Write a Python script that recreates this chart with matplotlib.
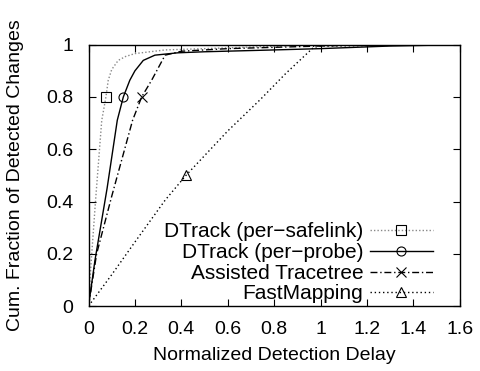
import matplotlib
matplotlib.use("Agg")
import matplotlib.pyplot as plt

plt.rcParams['font.family'] = ['Liberation Sans', 'DejaVu Sans']

safelink_x = [0, 0.01, 0.03, 0.057, 0.075, 0.085, 0.1, 0.128, 0.16, 0.2, 0.33, 0.5, 0.67, 1.0, 1.6]
safelink_y = [0, 0.15, 0.40, 0.71, 0.80, 0.864, 0.905, 0.94, 0.955, 0.966, 0.98, 0.985, 0.99, 1.0, 1.0]

probe_x = [0, 0.028, 0.08, 0.124, 0.15, 0.178, 0.2, 0.236, 0.286, 0.385, 0.5, 0.8, 1.0, 1.3, 1.6]
probe_y = [0, 0.176, 0.45, 0.711, 0.80, 0.864, 0.9, 0.94, 0.96, 0.969, 0.973, 0.98, 0.985, 0.995, 1.0]

tracetree_x = [0, 0.035, 0.1, 0.19, 0.229, 0.272, 0.33, 0.4, 0.6, 1.0, 1.2, 1.6]
tracetree_y = [0, 0.2, 0.42, 0.711, 0.80, 0.864, 0.96, 0.975, 0.985, 0.995, 1.0, 1.0]

fast_x = [0, 0.1, 0.2, 0.33, 0.42, 0.6, 0.74, 0.85, 0.97, 1.0, 1.6]
fast_y = [0, 0.12, 0.245, 0.405, 0.5, 0.67, 0.79, 0.89, 0.99, 0.995, 1.0]

labels = ["DTrack (per\u2212safelink)", "DTrack (per\u2212probe)", "Assisted Tracetree", "FastMapping"]
xticks = [0, 0.2, 0.4, 0.6, 0.8, 1, 1.2, 1.4, 1.6]
yticks = [0, 0.2, 0.4, 0.6, 0.8, 1]

fig = plt.figure(figsize=(4.81, 3.71), dpi=100)
ax = fig.add_axes([0.184, 0.175, 0.772, 0.7045])

ms = 6.5
ax.plot(safelink_x, safelink_y, color='#888888', lw=1.0, ls=(0, (1, 1.5)),
        marker='s', mfc='none', mec='black', ms=ms, mew=0.8,
        markevery=[safelink_x.index(0.075)], label=labels[0])
ax.plot(probe_x, probe_y, color='black', lw=1.0, ls='-',
        marker='o', mfc='none', mec='black', ms=ms, mew=0.8,
        markevery=[probe_x.index(0.15)], label=labels[1])
ax.plot(tracetree_x, tracetree_y, color='black', lw=1.0, ls=(0, (5, 2, 1, 2)),
        marker='x', mfc='none', mec='black', ms=ms, mew=0.8,
        markevery=[tracetree_x.index(0.229)], label=labels[2])
ax.plot(fast_x, fast_y, color='black', lw=1.0, ls=(0, (1, 2)),
        marker='^', mfc='none', mec='black', ms=ms, mew=0.8,
        markevery=[fast_x.index(0.42)], label=labels[3])

ax.set_xlim(0, 1.6)
ax.set_ylim(0, 1)
ax.set_xticks(xticks)
ax.set_xticklabels([f"{t:g}" for t in xticks])
ax.set_yticks(yticks)
ax.set_yticklabels([f"{t:g}" for t in yticks])
ax.tick_params(direction='in', top=True, right=True, labelsize=14, length=5, width=0.8, pad=11)
for s in ax.spines.values():
    s.set_linewidth(1.0)

ax.set_xlabel("Normalized Detection Delay", fontsize=14, labelpad=6)
ax.set_ylabel("Cum. Fraction of Detected Changes", fontsize=14, labelpad=16)

leg = ax.legend(loc='lower right', bbox_to_anchor=(0.927, 0.01), frameon=False,
                markerfirst=False, fontsize=15,
                handlelength=3.0, handletextpad=0.34, labelspacing=0.08,
                borderaxespad=0.0, borderpad=0.0)

fig.savefig("out.png", dpi=100)
